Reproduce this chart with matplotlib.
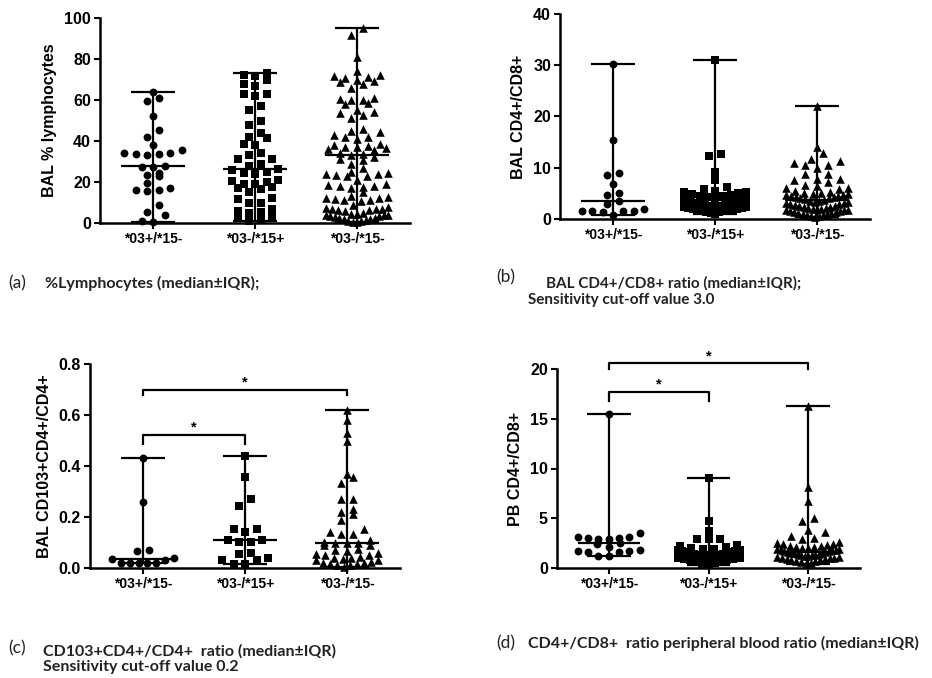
import numpy as np
import matplotlib

# Headless backend
matplotlib.use("Agg")

import matplotlib.pyplot as plt

# ==========
# DATA
# ==========
groups = ["*03+/*15-", "*03-/*15+", "*03-/*15-"]
markers = ["o", "s", "^"]

# (a) BAL % lymphocytes
a_g1 = [64, 61, 59.5, 52, 45.5, 42, 38, 35.5, 34, 33.5, 33, 33.5, 34, 28, 27.5, 27.5,
        24.5, 23.5, 23, 19.5, 17, 16, 16, 15.5, 9, 5.5, 4, 1, 0.5]
a_g2 = [73, 72, 71.5, 70, 68, 67, 63, 63, 62, 57, 55, 50, 48, 44, 42, 41.5, 38.5, 38,
        34, 33, 31, 31, 29, 28, 26.5, 26, 25, 24.5, 24, 21, 20.5, 20, 19, 19, 17.5, 17,
        16.5, 15, 12, 11.5, 10, 10, 7, 6, 5.5, 5, 3.5, 3, 1.5, 1]
a_g3 = [95, 91.5, 81, 74, 72, 71.5, 71, 70.5, 70, 69.5, 69, 68, 66, 61, 60.5, 60, 60,
        58.5, 58, 55, 54, 53.5, 52.5, 51, 46, 45, 44.5, 43, 42, 42, 41, 38.5, 38, 37.5,
        37, 37, 36.5, 36, 35.5, 34, 33.5, 33, 32, 31, 30.5, 29, 27, 25, 24.5, 24, 24,
        23.5, 23, 23, 21, 19, 18.5, 18, 18, 17.5, 17, 15, 13, 12.5, 12, 12, 11.5, 11, 11,
        10.5, 9, 8, 7.5, 7, 7, 7, 6.5, 6.5, 6, 5, 4.5, 4.5, 4, 4, 4, 3.5, 3.5, 3, 2.5,
        2.5, 2, 2, 1.5, 1, 1, 0.5, 0.5]
a_median = [28, 26.5, 33]

# (b) BAL CD4+/CD8+
b_g1 = [30.3, 15.5, 8.9, 8.6, 6.8, 5.1, 4.7, 3.6, 2.9, 1.9, 1.6, 1.5, 1.5, 1.5, 1.4, 0.8]
b_g2 = [31, 12.6, 12.2, 9.2, 7.6, 6.3, 5.8, 5.5, 5.3, 5.2, 5.0, 4.9, 4.7, 4.5, 4.4, 4.2,
        4.0, 3.9, 3.7, 3.5, 3.4, 3.2, 3.0, 2.9, 2.8, 2.6, 2.5, 2.4, 2.3, 2.2, 2.1, 2.0,
        2.0, 1.9, 1.8, 1.7, 1.6, 1.5, 1.4, 1.3, 1.2, 1.0]
b_g3 = [22, 14.1, 12.9, 11.7, 11.4, 11, 10.6, 10.5, 10, 8.8, 8.7, 7.9, 7.8, 7.6, 7.3,
        6.6, 6.4, 6.0, 6.0, 5.9, 5.5, 5.3, 5.1, 5.0, 4.9, 4.8, 4.7, 4.6, 4.5, 4.4, 4.3,
        4.2, 4.1, 4.0, 3.9, 3.8, 3.6, 3.5, 3.4, 3.3, 3.2, 3.1, 3.0, 2.9, 2.8, 2.6, 2.5,
        2.4, 2.3, 2.2, 2.1, 2.0, 2.0, 1.9, 1.8, 1.8, 1.7, 1.6, 1.5, 1.4, 1.3, 1.2, 1.1,
        1.0, 0.9, 0.8, 0.7, 0.6, 0.5, 0.4]
b_median = [3.6, 3.8, 3.8]

# (c) BAL CD103+CD4+/CD4+
c_g1 = [0.43, 0.26, 0.072, 0.065, 0.04, 0.034, 0.03, 0.02, 0.02, 0.02, 0.02, 0.02]
c_g2 = [0.44, 0.355, 0.272, 0.243, 0.154, 0.154, 0.141, 0.109, 0.109, 0.102, 0.102,
        0.059, 0.056, 0.04, 0.033, 0.03, 0.014, 0.014]
c_g3 = [0.62, 0.58, 0.53, 0.50, 0.37, 0.355, 0.334, 0.272, 0.272, 0.233, 0.22, 0.213,
        0.19, 0.153, 0.141, 0.135, 0.135, 0.11, 0.102, 0.10, 0.10, 0.10, 0.089, 0.089,
        0.075, 0.07, 0.065, 0.06, 0.055, 0.05, 0.05, 0.045, 0.04, 0.04, 0.035, 0.03, 0.03,
        0.025, 0.02, 0.02, 0.015, 0.015, 0.01, 0.01, 0.005]
c_median = [0.034, 0.11, 0.10]

# (d) PB CD4+/CD8+
d_g1 = [15.5, 3.5, 3.1, 3.0, 2.9, 2.9, 3.0, 3.1, 2.5, 2.4, 2.1, 1.8, 1.7, 1.6, 1.6, 1.7,
        1.2, 1.2]
d_g2 = [9.0, 4.7, 3.7, 2.9, 2.9, 2.9, 2.3, 2.2, 2.1, 2.0, 1.9, 1.9, 1.8, 1.8, 1.7, 1.7,
        1.6, 1.6, 1.5, 1.5, 1.4, 1.4, 1.3, 1.3, 1.2, 1.2, 1.1, 1.1, 1.0, 1.0, 0.9, 0.9,
        0.8, 0.8, 0.7, 0.6, 0.5, 0.4, 0.3]
d_g3 = [16.3, 8.1, 6.7, 5.0, 4.7, 3.8, 3.6, 3.2, 3.0, 2.9, 2.6, 2.5, 2.4, 2.4, 2.3, 2.2,
        2.2, 2.1, 2.1, 2.0, 2.0, 1.9, 1.9, 1.8, 1.8, 1.8, 1.7, 1.7, 1.6, 1.6, 1.5, 1.5,
        1.5, 1.4, 1.4, 1.3, 1.3, 1.3, 1.2, 1.2, 1.1, 1.1, 1.0, 1.0, 1.0, 0.9, 0.9, 0.8,
        0.8, 0.7, 0.7, 0.6, 0.5, 0.4]
d_median = [2.5, 1.6, 1.6]

# significance brackets: (group i, group j, bar height, tick drop)
c_brackets = [(0, 1, 0.523, 0.035), (0, 2, 0.70, 0.02)]
d_brackets = [(0, 1, 17.7, 0.9), (0, 2, 20.6, 0.6)]

# ======
# FIGURE
# ======
W, H = 932, 678
fig = plt.figure(figsize=(W / 100, H / 100), dpi=100)
AX_FONT = "Liberation Sans"
CAP_FONT = "Lato"


def px_axes(left, top, right, bottom):
    return fig.add_axes([left / W, 1 - bottom / H, (right - left) / W, (bottom - top) / H])


def row_swarm(ax, i, vals, row_px=7.5, spacing_px=11.5, max_px=31):
    """GraphPad-like scatter: bin points into rows, spread each row symmetrically,
    lowest values in the middle so dense rows bend into chevrons."""
    vals = np.asarray(vals, dtype=float)
    ys = ax.transData.transform(np.column_stack([np.full(len(vals), i), vals]))[:, 1]
    x0 = ax.transData.transform((i, 0))[0]
    order = np.argsort(ys)
    rows, cur, start = [], [], None
    for j in order:
        if start is None or ys[j] - start > row_px:
            if cur:
                rows.append(cur)
            cur, start = [j], ys[j]
        else:
            cur.append(j)
    if cur:
        rows.append(cur)
    offs = np.zeros(len(vals))
    for r in rows:
        n = len(r)
        if n == 1:
            continue
        sp = spacing_px if (n - 1) * spacing_px / 2 <= max_px else 2 * max_px / (n - 1)
        slots = (np.arange(n) - (n - 1) / 2) * sp
        slots = slots[np.argsort(np.abs(slots), kind="stable")]
        for k, j in enumerate(r):
            offs[j] = slots[k]
    inv = ax.transData.inverted()
    return inv.transform(np.column_stack([x0 + offs, ys]))[:, 0]


def panel(box, data, medians, ylim, yticks, ylabel, brackets=()):
    ax = px_axes(*box)
    ax.set_xlim(-0.52, 2.52)
    ax.set_ylim(*ylim)
    for i, vals in enumerate(data):
        xs = row_swarm(ax, i, vals)
        ax.scatter(xs, vals, marker=markers[i], s=32 if i < 2 else 38,
                   color="black", linewidths=0, zorder=2, clip_on=False)
        lo, hi = min(vals), max(vals)
        ax.vlines(i, lo, hi, color="black", lw=1.6, zorder=3)
        ax.hlines([lo, hi], i - 0.22, i + 0.22, color="black", lw=1.6, zorder=3)
        ax.hlines(medians[i], i - 0.31, i + 0.31, color="black", lw=1.6, zorder=3)
    for g1, g2, yb, drop in brackets:
        ax.plot([g1, g1, g2, g2], [yb - drop, yb, yb, yb - drop], color="black",
                lw=1.6, clip_on=False)
        ax.text((g1 + g2) / 2, yb, "*", ha="center", va="bottom", fontsize=10.5,
                fontweight="bold", family=AX_FONT)
    ax.set_yticks(yticks)
    ax.set_xticks(range(3))
    ax.set_xticklabels(groups)
    for sp in ["top", "right"]:
        ax.spines[sp].set_visible(False)
    for sp in ["left", "bottom"]:
        ax.spines[sp].set_linewidth(1.8)
    ax.tick_params(direction="out", length=4.5, width=1.5, pad=2)
    ax.tick_params(axis="x", labelsize=10)
    ax.tick_params(axis="y", labelsize=11.5)
    for lab in ax.get_xticklabels() + ax.get_yticklabels():
        lab.set_fontweight("bold")
        lab.set_family(AX_FONT)
    ax.set_ylabel(ylabel, fontsize=11.5, fontweight="bold", family=AX_FONT, labelpad=5)
    ax.set_facecolor("none")
    return ax


panel((100, 18, 410, 223), [a_g1, a_g2, a_g3], a_median, (0, 100),
      [0, 20, 40, 60, 80, 100], "BAL % lymphocytes")
panel((560, 14, 870, 219), [b_g1, b_g2, b_g3], b_median, (0, 40),
      [0, 10, 20, 30, 40], "BAL CD4+/CD8+")
panel((90, 364, 400, 568), [c_g1, c_g2, c_g3], c_median, (0, 0.8),
      [0.0, 0.2, 0.4, 0.6, 0.8], "BAL CD103+CD4+/CD4+", c_brackets)
panel((557, 369, 860, 568), [d_g1, d_g2, d_g3], d_median, (0, 20),
      [0, 5, 10, 15, 20], "PB CD4+/CD8+", d_brackets)

# ========
# CAPTIONS
# ========
def cap(x, y, s, bold=True, size=11.5):
    fig.text(x / W, 1 - y / H, s, ha="left", va="center", fontsize=size,
             fontweight="bold" if bold else "normal", family=CAP_FONT, color="#222222")


cap(8, 283, "(a)", bold=False, size=12.5)
cap(45, 283, "%Lymphocytes (median±IQR);")
cap(496, 277, "(b)", bold=False, size=12.5)
cap(546, 283, "BAL CD4+/CD8+ ratio (median±IQR);", size=11)
cap(528, 300, "Sensitivity cut-off value 3.0", size=11)
cap(8, 648, "(c)", bold=False, size=12.5)
cap(43, 651, "CD103+CD4+/CD4+  ratio (median±IQR)")
cap(43, 667, "Sensitivity cut-off value 0.2")
cap(496, 643, "(d)", bold=False, size=12.5)
cap(528, 643, "CD4+/CD8+  ratio peripheral blood ratio (median±IQR)")

fig.savefig("out.png", dpi=100)
